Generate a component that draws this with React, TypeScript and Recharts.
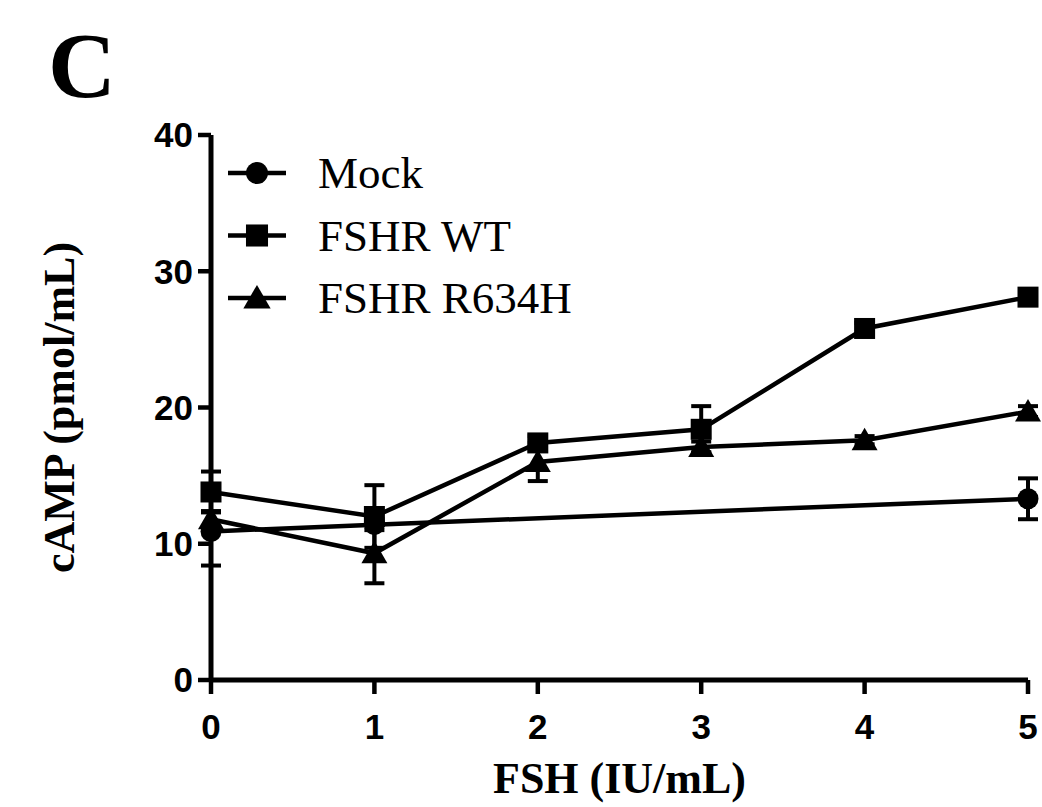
import React from "react";
import { LineChart, Line, XAxis, YAxis, ErrorBar, Legend, Label } from "recharts";

const fshDoses = [0, 1, 2, 3, 4, 5];
const wtValues = [13.8, 12.0, 17.4, 18.4, 25.8, 28.1];
const wtErrors = [1.5, 2.3, 0.5, 1.7, 0.4, 0.4];
const r634hValues = [11.8, 9.3, 16.0, 17.1, 17.6, 19.7];
const r634hErrors = [0.6, 2.2, 1.4, 0.4, 0.3, 0.4];

const mockDoses = [0, 1, 5];
const mockValues = [10.9, 11.4, 13.3];
const mockErrors = [2.5, 0.4, 1.5];

const yTicks = [0, 10, 20, 30, 40];
const seriesNames = ["Mock", "FSHR WT", "FSHR R634H"];

const rows = fshDoses.map((fsh, i) => ({
  fsh,
  wt: wtValues[i],
  wtErr: wtErrors[i],
  r634h: r634hValues[i],
  r634hErr: r634hErrors[i],
}));

const mockRows = mockDoses.map((fsh, i) => ({
  fsh,
  mock: mockValues[i],
  mockErr: mockErrors[i],
}));

const SANS = "'Liberation Sans', Arial, sans-serif";
const SERIF = "'Liberation Serif', 'Times New Roman', serif";

// marker glyphs, shared by the lines and the legend
const Marker = ({ kind, cx, cy, s = 1 }: { kind: string; cx: number; cy: number; s?: number }) => {
  if (kind === "Mock") return <circle cx={cx} cy={cy} r={10.5 * s} fill="#000" />;
  if (kind === "FSHR WT")
    return <rect x={cx - 10.5 * s} y={cy - 10.5 * s} width={21 * s} height={21 * s} fill="#000" />;
  const h = 12.5 * s;
  return (
    <polygon
      points={`${cx},${cy - h} ${cx - 13 * s},${cy + h * 0.8} ${cx + 13 * s},${cy + h * 0.8}`}
      fill="#000"
    />
  );
};

const dotFor = (kind: string) => (props: any) => {
  const { cx, cy, index } = props;
  if (cx == null || cy == null) return <g key={`${kind}-${index}`} />;
  return <Marker key={`${kind}-${index}`} kind={kind} cx={cx} cy={cy} />;
};

const LegendBox = () => (
  <svg width={400} height={190}>
    {seriesNames.map((name, i) => {
      const cy = 33 + i * 62.5;
      return (
        <g key={name}>
          <line x1={8} x2={66} y1={cy} y2={cy} stroke="#000" strokeWidth={4.5} />
          <Marker kind={name} cx={37} cy={cy} s={1.05} />
          <text x={98} y={cy + 15} fontFamily={SERIF} fontSize={45} fill="#000">
            {name}
          </text>
        </g>
      );
    })}
  </svg>
);

const YTitle = (props: any) => {
  const { viewBox } = props;
  const cy = viewBox.y + viewBox.height / 2;
  return (
    <text
      x={59}
      y={cy}
      transform={`rotate(-90 59 ${cy})`}
      textAnchor="middle"
      dominantBaseline="central"
      fontFamily={SERIF}
      fontWeight="bold"
      fontSize={44}
      fill="#000"
    >
      cAMP (pmol/mL)
    </text>
  );
};

const XTitle = (props: any) => {
  const { viewBox } = props;
  const cx = viewBox.x + viewBox.width / 2;
  return (
    <text x={cx} y={793} textAnchor="middle" fontFamily={SERIF} fontWeight="bold" fontSize={44} fill="#000">
      FSH (IU/mL)
    </text>
  );
};

export default function App() {
  return (
    <div style={{ position: "absolute", left: 0, top: 0, width: 1042, height: 807, background: "#fff" }}>
      <div
        style={{
          position: "absolute",
          left: 48,
          top: 18,
          fontFamily: SERIF,
          fontWeight: "bold",
          fontSize: 94,
          lineHeight: "94px",
        }}
      >
        C
      </div>
      <LineChart width={1042} height={807} data={rows} margin={{ top: 135, right: 14, bottom: 67, left: 111 }}>
        <XAxis
          dataKey="fsh"
          type="number"
          domain={[0, 5]}
          ticks={fshDoses}
          height={60}
          axisLine={{ stroke: "#000", strokeWidth: 5 }}
          tickLine={{ stroke: "#000", strokeWidth: 4.5 }}
          tickSize={14}
          tickMargin={20}
          tick={{ fill: "#000", fontFamily: SANS, fontWeight: "bold", fontSize: 35 }}
        >
          <Label content={<XTitle />} />
        </XAxis>
        <YAxis
          type="number"
          domain={[0, 40]}
          ticks={yTicks}
          width={100}
          axisLine={{ stroke: "#000", strokeWidth: 5 }}
          tickLine={{ stroke: "#000", strokeWidth: 4.5 }}
          tickSize={13}
          tickMargin={5}
          tick={{ fill: "#000", fontFamily: SANS, fontWeight: "bold", fontSize: 35 }}
        >
          <Label content={<YTitle />} />
        </YAxis>
        <Legend
          layout="vertical"
          align="center"
          verticalAlign="middle"
          wrapperStyle={{ left: 220, top: 140, width: 400 }}
          content={<LegendBox />}
        />
        <Line
          data={mockRows}
          dataKey="mock"
          name="Mock"
          stroke="#000"
          strokeWidth={4.5}
          dot={dotFor("Mock")}
          activeDot={false}
          isAnimationActive={false}
        >
          <ErrorBar dataKey="mockErr" direction="y" width={10} stroke="#000" strokeWidth={4} isAnimationActive={false} />
        </Line>
        <Line
          dataKey="wt"
          name="FSHR WT"
          stroke="#000"
          strokeWidth={4.5}
          dot={dotFor("FSHR WT")}
          activeDot={false}
          isAnimationActive={false}
        >
          <ErrorBar dataKey="wtErr" direction="y" width={10} stroke="#000" strokeWidth={4} isAnimationActive={false} />
        </Line>
        <Line
          dataKey="r634h"
          name="FSHR R634H"
          stroke="#000"
          strokeWidth={4.5}
          dot={dotFor("FSHR R634H")}
          activeDot={false}
          isAnimationActive={false}
        >
          <ErrorBar dataKey="r634hErr" direction="y" width={10} stroke="#000" strokeWidth={4} isAnimationActive={false} />
        </Line>
      </LineChart>
    </div>
  );
}
